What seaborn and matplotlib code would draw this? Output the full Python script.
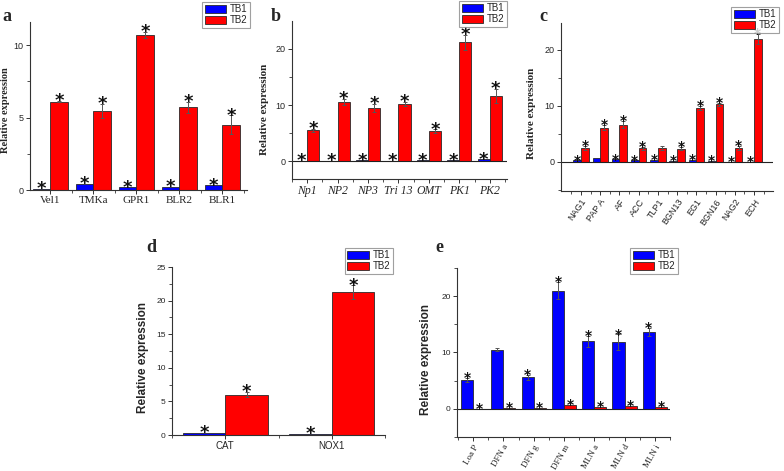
import numpy as np
import pandas as pd
import seaborn as sns
import matplotlib.pyplot as plt
from matplotlib.patches import Patch
from matplotlib.ticker import FixedLocator, MultipleLocator

# Plot Style
sns.set_style("ticks")
plt.rcParams["font.family"] = ["Liberation Sans", "DejaVu Sans"]

BLUE = "#0000ff"
RED = "#ff0000"
SERIF = "Liberation Serif"
SANS = "Liberation Sans"

# Panel a
a_genes = ["Vel1", "TMKa", "GPR1", "BLR2", "BLR1"]
a_tb1 = [0.09, 0.42, 0.2, 0.23, 0.32]
a_tb2 = [6.1, 5.45, 10.7, 5.7, 4.5]
a_tb1_err = [0, 0, 0, 0, 0]
a_tb2_err = [0.05, 0.5, 0.2, 0.4, 0.65]
a_tb1_star = [1, 1, 1, 1, 1]
a_tb2_star = [1, 1, 1, 1, 1]

# Panel b
b_genes = ["Np1", "NP2", "NP3", "Tri 13", "OMT", "PK1", "PK2"]
b_tb1 = [0.02, 0.05, 0.1, 0.05, 0.1, 0.15, 0.35]
b_tb2 = [5.46, 10.56, 9.5, 10.2, 5.34, 21.2, 11.57]
b_tb1_err = [0, 0, 0, 0, 0, 0, 0]
b_tb2_err = [0.3, 0.5, 0.7, 0.4, 0.35, 1.3, 1.3]
b_tb1_star = [1, 1, 1, 1, 1, 1, 1]
b_tb2_star = [1, 1, 1, 1, 1, 1, 1]

# Panel c
c_genes = ["NAG1", "PAP A", "AF", "ACC", "TLP1", "BGN13", "EG1", "BGN16", "NAG2", "ECH"]
c_tb1 = [0.25, 0.7, 0.45, 0.25, 0.35, 0.1, 0.35, 0.15, 0.03, 0.03]
c_tb2 = [2.44, 6.13, 6.67, 2.44, 2.5, 2.38, 9.64, 10.3, 2.5, 21.9]
c_tb1_err = [0, 0, 0, 0, 0, 0, 0, 0, 0, 0]
c_tb2_err = [0.35, 0.5, 0.6, 0.25, 0.4, 0.3, 0.42, 0.3, 0.3, 0.9]
c_tb1_star = [1, 0, 1, 1, 1, 1, 1, 1, 1, 1]
c_tb2_star = [1, 1, 1, 1, 0, 1, 1, 1, 1, 1]

# Panel d
d_genes = ["CAT", "NOX1"]
d_tb1 = [0.35, 0.2]
d_tb2 = [6.0, 21.3]
d_tb1_err = [0, 0]
d_tb2_err = [0.4, 1.0]
d_tb1_star = [1, 1]
d_tb2_star = [1, 1]

# Panel e
e_genes = ["Loa P", "DFN a", "DFN g", "DFN m", "MLN a", "MLN d", "MLN i"]
e_tb1 = [5.15, 10.5, 5.6, 21.0, 12.0, 11.85, 13.65]
e_tb2 = [0.05, 0.2, 0.2, 0.75, 0.4, 0.45, 0.35]
e_tb1_err = [0.3, 0.3, 0.4, 1.55, 0.95, 1.35, 0.65]
e_tb2_err = [0, 0, 0, 0, 0, 0, 0]
e_tb1_star = [1, 0, 1, 1, 1, 1, 1]
e_tb2_star = [1, 1, 1, 1, 1, 1, 1]


def draw_panel(ax, genes, tb1, tb2, err1, err2, star1, star2, star_size):
    n = len(genes)
    df = pd.DataFrame({
        "gene": genes * 2,
        "group": ["TB1"] * n + ["TB2"] * n,
        "value": tb1 + tb2,
    })
    sns.barplot(data=df, x="gene", y="value", hue="group",
                palette={"TB1": BLUE, "TB2": RED}, saturation=1, errorbar=None,
                edgecolor="#2a2a2a", linewidth=0.6, legend=False, ax=ax)
    # error bars and significance stars from the drawn bars
    for cont, errs, stars in zip(ax.containers, [err1, err2], [star1, star2]):
        for bar, e, s in zip(cont, errs, stars):
            x = bar.get_x() + bar.get_width() / 2
            h = bar.get_height()
            if e > 0:
                ax.errorbar(x, h, yerr=e, color="#555555", lw=0.7,
                            capsize=1.6, capthick=0.7)
            if s:
                ax.annotate("*", (x, h + e), xytext=(0, -0.3 * star_size),
                            textcoords="offset points", ha="center",
                            va="baseline", fontsize=star_size, color="#111111",
                            family="DejaVu Sans", fontweight="bold")
    ax.set_xlabel("")
    ax.xaxis.set_minor_locator(FixedLocator(np.arange(-0.5, n + 0.5, 1)))
    sns.despine(ax=ax)
    for sp in ax.spines.values():
        sp.set_color("#333333")
        sp.set_linewidth(0.8)
    ax.tick_params(axis="both", which="major", length=3, width=0.7,
                   color="#333333", pad=1.5)
    ax.tick_params(axis="both", which="minor", length=2, width=0.6,
                   color="#333333")


def add_legend(ax, fig, corner, labels_font):
    handles = [Patch(facecolor=BLUE, edgecolor="#2a2a2a", linewidth=0.6),
               Patch(facecolor=RED, edgecolor="#2a2a2a", linewidth=0.6)]
    leg = ax.legend(handles, ["TB1", "TB2"], loc="upper right",
                    bbox_to_anchor=corner, bbox_transform=fig.transFigure,
                    fancybox=False, frameon=True, borderpad=0.25,
                    labelspacing=0.1, handlelength=2.2, handleheight=0.9,
                    handletextpad=0.4, borderaxespad=0,
                    prop={"family": labels_font, "size": 7})
    leg.get_frame().set_edgecolor("#888888")
    leg.get_frame().set_linewidth(0.8)


fig = plt.figure(figsize=(7.84, 4.71), dpi=100)
ax_a = fig.add_axes([0.038, 0.5966, 0.277, 0.357])
ax_b = fig.add_axes([0.3724, 0.62, 0.274, 0.3355])
ax_c = fig.add_axes([0.7156, 0.5945, 0.2704, 0.3567])
ax_d = fig.add_axes([0.2194, 0.0764, 0.2717, 0.3567])
ax_e = fig.add_axes([0.5829, 0.0722, 0.2717, 0.3588])

# a
draw_panel(ax_a, a_genes, a_tb1, a_tb2, a_tb1_err, a_tb2_err, a_tb1_star, a_tb2_star, 13)
ax_a.set_xlim(-0.48, 4.57)
ax_a.set_ylim(0, 11.6)
ax_a.yaxis.set_major_locator(MultipleLocator(5))
ax_a.yaxis.set_minor_locator(MultipleLocator(2.5))
ax_a.tick_params(axis="x", labelsize=8)
ax_a.tick_params(axis="y", labelsize=6.5)
for t in ax_a.get_xticklabels():
    t.set_family(SERIF)
ax_a.set_ylabel("Relative expression", fontsize=7.5, fontweight="bold", family=SERIF)
ax_a.yaxis.set_label_coords(-0.092, 0.476)
add_legend(ax_a, fig, (0.319, 0.996), SANS)

# b
draw_panel(ax_b, b_genes, b_tb1, b_tb2, b_tb1_err, b_tb2_err, b_tb1_star, b_tb2_star, 13)
ax_b.axhline(0, color="#222222", lw=0.8)
ax_b.set_xlim(-0.5, 6.56)
ax_b.set_ylim(-3.2, 25)
ax_b.yaxis.set_major_locator(FixedLocator([0, 10, 20]))
ax_b.yaxis.set_minor_locator(FixedLocator([5, 15]))
ax_b.tick_params(axis="x", labelsize=8.5)
ax_b.tick_params(axis="y", labelsize=6.5)
for t in ax_b.get_xticklabels():
    t.set_family(SERIF)
    t.set_style("italic")
ax_b.set_ylabel("Relative expression", fontsize=8, fontweight="bold", family=SERIF)
ax_b.yaxis.set_label_coords(-0.109, 0.44)
add_legend(ax_b, fig, (0.647, 0.998), SANS)

# c
draw_panel(ax_c, c_genes, c_tb1, c_tb2, c_tb1_err, c_tb2_err, c_tb1_star, c_tb2_star, 10)
ax_c.axhline(0, color="#222222", lw=0.8)
ax_c.set_xlim(-1.04, 9.99)
ax_c.set_ylim(-5.2, 24.8)
ax_c.yaxis.set_major_locator(FixedLocator([0, 10, 20]))
ax_c.yaxis.set_minor_locator(FixedLocator([-5, 5, 15]))
ax_c.tick_params(axis="x", labelsize=6.5)
ax_c.tick_params(axis="y", labelsize=6.5)
for t in ax_c.get_xticklabels():
    t.set_rotation(55)
    t.set_ha("right")
    t.set_rotation_mode("anchor")
ax_c.set_ylabel("Relative expression", fontsize=8, fontweight="bold", family=SERIF)
ax_c.yaxis.set_label_coords(-0.118, 0.46)
add_legend(ax_c, fig, (0.9936, 0.985), SANS)

# d
draw_panel(ax_d, d_genes, d_tb1, d_tb2, d_tb1_err, d_tb2_err, d_tb1_star, d_tb2_star, 13)
ax_d.set_xlim(-0.5, 1.5)
ax_d.set_ylim(0, 25)
ax_d.yaxis.set_major_locator(MultipleLocator(5))
ax_d.yaxis.set_minor_locator(MultipleLocator(2.5))
ax_d.tick_params(axis="x", labelsize=7)
ax_d.tick_params(axis="y", labelsize=6)
ax_d.set_ylabel("Relative expression", fontsize=8.5, fontweight="bold", family=SANS)
ax_d.yaxis.set_label_coords(-0.108, 0.46)
add_legend(ax_d, fig, (0.501, 0.4735), SANS)

# e
draw_panel(ax_e, e_genes, e_tb1, e_tb2, e_tb1_err, e_tb2_err, e_tb1_star, e_tb2_star, 10)
ax_e.axhline(0, color="#222222", lw=0.8)
ax_e.set_xlim(-0.53, 6.5)
ax_e.set_ylim(-5, 25)
ax_e.yaxis.set_major_locator(FixedLocator([0, 10, 20]))
ax_e.yaxis.set_minor_locator(FixedLocator([-5, 5, 15, 25]))
ax_e.tick_params(axis="x", labelsize=6.5)
ax_e.tick_params(axis="y", labelsize=6)
for t in ax_e.get_xticklabels():
    t.set_family(SERIF)
    t.set_rotation(60)
    t.set_ha("right")
    t.set_rotation_mode("anchor")
ax_e.set_ylabel("Relative expression", fontsize=8.5, fontweight="bold", family=SANS)
ax_e.yaxis.set_label_coords(-0.115, 0.46)
add_legend(ax_e, fig, (0.865, 0.4735), SANS)

# panel letters
for letter, x, y in [("a", 0.0083, 0.966), ("b", 0.352, 0.966), ("c", 0.693, 0.965),
                     ("d", 0.1926, 0.4745), ("e", 0.56, 0.4745)]:
    fig.text(x, y, letter, fontsize=13, fontweight="bold", family=SERIF,
             ha="center", va="center")

fig.savefig("out.png", dpi=100)
